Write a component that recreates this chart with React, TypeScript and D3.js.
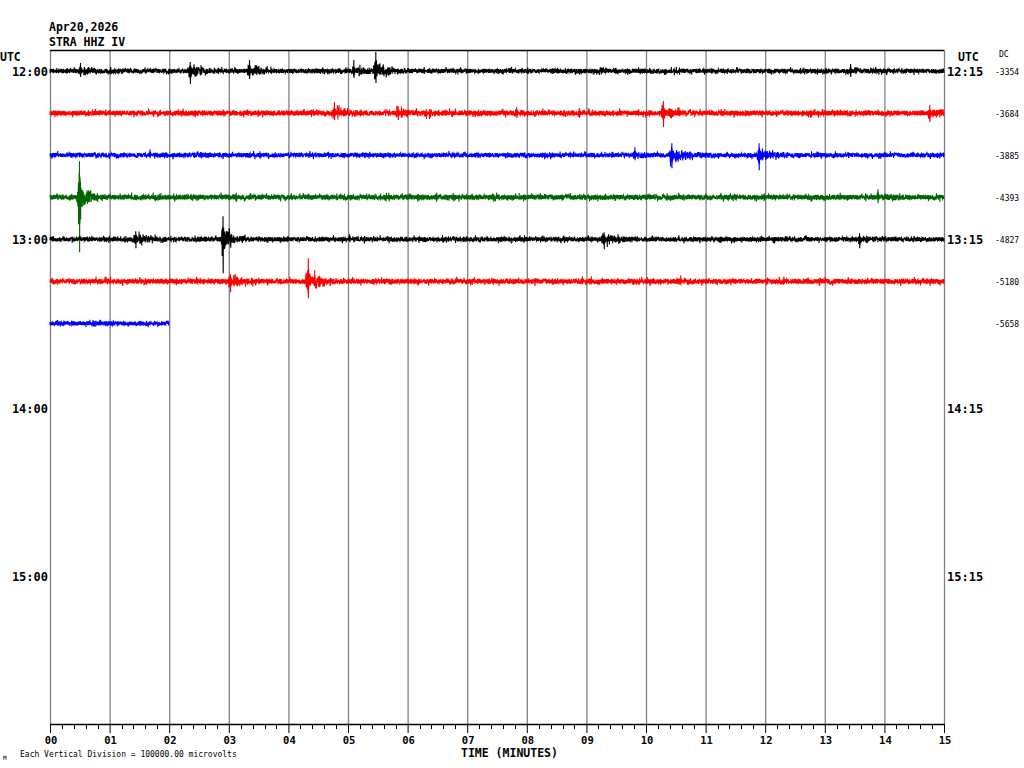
import React from "react";
import * as d3 from "d3";

// ---- data ----
const titleLines = ["Apr20,2026", "STRA HHZ IV"];
const minuteTicks = ["00","01","02","03","04","05","06","07","08","09","10","11","12","13","14","15"];
const leftHourLabels = ["12:00", "13:00", "14:00", "15:00"];
const rightHourLabels = ["12:15", "13:15", "14:15", "15:15"];
const rowColors = ["#000000", "#ff0000", "#0000ff", "#006400", "#000000", "#ff0000", "#0000ff"];
const dcValues = ["-3354", "-3684", "-3885", "-4393", "-4827", "-5180", "-5658"];
const rowEndMinute = [15, 15, 15, 15, 15, 15, 2];
const rowNoise = [2.2, 2.5, 2.2, 2.5, 2.2, 2.5, 2.2]; // px, typical noise half-width
// events: [row, onsetMinute, peakUp(px), peakDown(px), codaAmp(px), durationMinutes]
const events: [number, number, number, number, number, number][] = [
  [0, 0.47, 8, 6, 5, 0.2], [0, 2.3, 9, 13, 7, 0.3], [0, 3.3, 11, 8, 6, 0.25],
  [0, 5.05, 11, 7, 6, 0.25], [0, 5.42, 19, 12, 9, 0.25], [0, 6.25, 4, 3, 3, 0.1], [0, 13.4, 7, 6, 5, 0.15],
  [1, 4.72, 11, 7, 6, 0.3], [1, 5.8, 7, 7, 6, 0.2], [1, 6.28, 4, 6, 5, 0.15], [1, 7.8, 6, 5, 4, 0.12],
  [1, 8.85, 5, 5, 4, 0.15], [1, 10.25, 12, 14, 8, 0.2], [1, 14.72, 8, 9, 6, 0.2],
  [2, 1.65, 6, 3, 4, 0.1], [2, 9.78, 8, 5, 6, 0.15], [2, 10.38, 12, 13, 8, 0.3], [2, 11.85, 12, 15, 8, 0.25],
  [3, 0.45, 36, 55, 14, 0.22], [3, 13.85, 8, 6, 5, 0.2],
  [4, 1.38, 8, 9, 6, 0.35], [4, 2.86, 23, 34, 14, 0.2], [4, 5.0, 5, 3, 4, 0.1], [4, 9.25, 7, 10, 6, 0.25],
  [4, 13.55, 6, 9, 5, 0.15],
  [5, 2.98, 7, 11, 7, 0.25], [5, 4.28, 23, 17, 11, 0.3], [5, 8.9, 5, 3, 4, 0.15], [5, 10.55, 6, 4, 4, 0.15],
];

const W = 1024, H = 768;
const X0 = 50, X1 = 944, Y0 = 50, AXIS_Y = 724;
const ROW0 = 71, ROW_STEP = 42.07;
const SPM = 360; // samples per minute

function makeTexture(seed: number) {
  // deterministic sample-to-sample wiggle (texture only, not data values)
  let s = seed >>> 0;
  return () => {
    s = (s + 0x6d2b79f5) >>> 0;
    let t = s;
    t = Math.imul(t ^ (t >>> 15), t | 1);
    t ^= t + Math.imul(t ^ (t >>> 7), t | 61);
    return ((t ^ (t >>> 14)) >>> 0) / 4294967296;
  };
}

function buildTrace(row: number) {
  const tex = makeTexture(1234 + row * 977);
  const n = Math.round(rowEndMinute[row] * SPM);
  const vals: number[] = [];
  for (let i = 0; i <= n; i++) {
    const r = tex() * 2 - 1;
    const spike = tex() < 0.06 ? 1.9 : 1;
    vals.push(r * rowNoise[row] * spike);
  }
  for (const [r, st, up, dn, coda, dur] of events) {
    if (r !== row) continue;
    const i0 = Math.round(st * SPM);
    const iEnd = Math.min(n, Math.round((st + dur * 2.5) * SPM));
    for (let i = i0; i <= iEnd; i++) {
      const dt = (i / SPM - st) / dur;
      const env = Math.min(1, dt * 8) * Math.exp(-dt * 1.2);
      const q = tex() * 2 - 1;
      const burst = tex() < 0.15 ? 1.7 : 1;
      vals[i] += q * coda * env * burst;
    }
    // main burst of large spikes shortly after onset
    const k = i0 + Math.round(dur * SPM * 0.12);
    for (let j = 0; j < 24 && k + j <= n; j++) {
      const f = j === 6 || j === 7 ? 1 : (0.35 + 0.45 * tex()) * Math.exp(-Math.abs(j - 6) / 12);
      vals[k + j] = j % 2 === 0 ? up * f : -dn * f;
    }
  }
  return vals.map((v, i) => [i / SPM, v] as [number, number]);
}

export default function App() {
  const x = d3.scaleLinear().domain([0, 15]).range([X0, X1]);
  const rowY = d3.scaleLinear().domain([0, 1]).range([ROW0, ROW0 + ROW_STEP]);
  const majorTicks = d3.range(0, 16);
  const minorTicks = d3.range(0, 75).map((i) => i / 5).filter((t) => Math.abs(t - Math.round(t)) > 1e-6);
  const mono = "'DejaVu Sans Mono', 'Liberation Mono', monospace";

  const traces = rowColors.map((c, row) => {
    const pts = buildTrace(row);
    const line = d3
      .line<[number, number]>()
      .x((d) => x(d[0]))
      .y((d) => rowY(row) - d[1]);
    return <path key={row} d={line(pts) || ""} fill="none" stroke={c} strokeWidth={1.1} />;
  });

  return (
    <svg width={W} height={H} style={{ position: "absolute", left: 0, top: 0, background: "#fff" }}>
      <rect x={0} y={0} width={W} height={H} fill="#fff" />
      {/* grid */}
      {majorTicks.map((t) => (
        <line key={"g" + t} x1={x(t) + 0.5} x2={x(t) + 0.5} y1={Y0} y2={AXIS_Y} stroke="#808080" strokeWidth={1.3} />
      ))}
      <line x1={X0} x2={X1} y1={Y0 + 0.5} y2={Y0 + 0.5} stroke="#000" strokeWidth={1.5} />
      {/* traces */}
      {traces}
      {/* axis */}
      <line x1={X0} x2={X1 + 1} y1={AXIS_Y + 0.5} y2={AXIS_Y + 0.5} stroke="#000" strokeWidth={1.3} />
      {majorTicks.map((t) => (
        <line key={"M" + t} x1={x(t) + 0.5} x2={x(t) + 0.5} y1={AXIS_Y} y2={AXIS_Y + 9} stroke="#000" />
      ))}
      {minorTicks.map((t) => (
        <line key={"m" + t} x1={Math.round(x(t)) + 0.5} x2={Math.round(x(t)) + 0.5} y1={AXIS_Y} y2={AXIS_Y + 5} stroke="#000" />
      ))}
      {majorTicks.map((t) => (
        <text key={"l" + t} x={x(t) + 1} y={744} textAnchor="middle" fontFamily={mono} fontWeight="bold" fontSize={10.5}>
          {minuteTicks[t]}
        </text>
      ))}
      <text x={461} y={757} fontFamily={mono} fontWeight="bold" fontSize={11.5}>
        TIME (MINUTES)
      </text>
      {/* titles */}
      {titleLines.map((s, i) => (
        <text key={s} x={49} y={31 + i * 15} fontFamily={mono} fontWeight="bold" fontSize={11.5}>
          {s}
        </text>
      ))}
      <text x={0} y={61} fontFamily={mono} fontWeight="bold" fontSize={11.5}>UTC</text>
      <text x={958} y={61} fontFamily={mono} fontWeight="bold" fontSize={11.5}>UTC</text>
      <text x={999} y={57} fontFamily={mono} fontSize={8}>DC</text>
      {leftHourLabels.map((s, i) => (
        <text key={s} x={48} y={rowY(i * 4) + 5} textAnchor="end" fontFamily={mono} fontWeight="bold" fontSize={12}>
          {s}
        </text>
      ))}
      {rightHourLabels.map((s, i) => (
        <text key={s} x={947} y={rowY(i * 4) + 5} fontFamily={mono} fontWeight="bold" fontSize={12}>
          {s}
        </text>
      ))}
      {dcValues.map((s, i) => (
        <text key={"dc" + i} x={995} y={rowY(i) + 4} fontFamily={mono} fontSize={8}>
          {s}
        </text>
      ))}
      <text x={20} y={757} fontFamily={mono} fontSize={8}>Each Vertical Division = 100000.00 microvolts</text>
      <text x={3} y={760} fontFamily={mono} fontSize={6}>M</text>
    </svg>
  );
}
